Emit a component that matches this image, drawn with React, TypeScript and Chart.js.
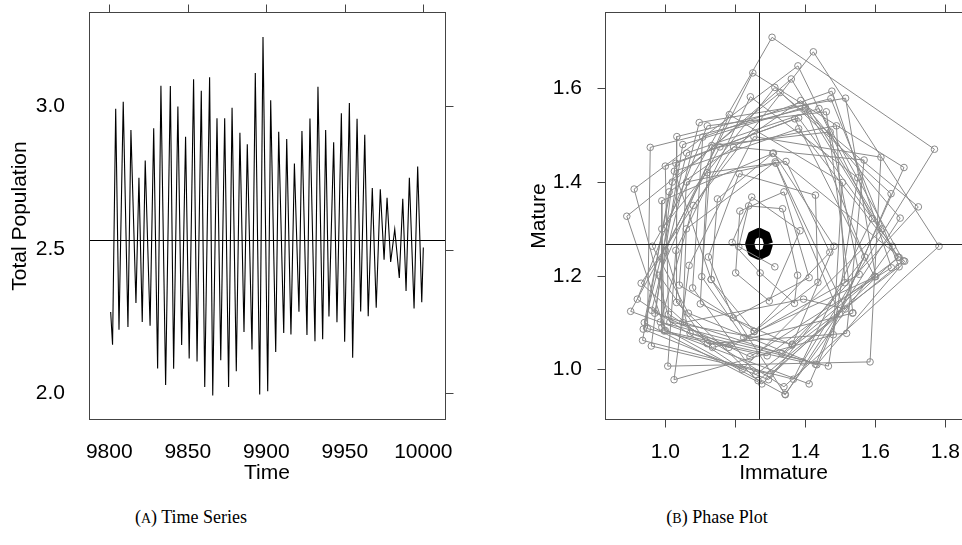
import React, { useEffect, useRef } from "react";
import { Chart, registerables } from "chart.js";

Chart.register(...registerables);

const SANS = "'Liberation Sans', Arial, Helvetica, sans-serif";
const SERIF = "'Liberation Serif', 'Times New Roman', serif";

// ---------- (A) Time series: turning points ----------
const timePoints = [
  9800.9, 9802.1, 9804.1, 9806.2, 9808.9, 9811.9, 9813.8, 9817.0, 9818.9, 9821.0,
  9822.9, 9826.0, 9828.3, 9830.8, 9832.9, 9835.9, 9838.9, 9841.0, 9843.7, 9846.1,
  9848.6, 9850.9, 9853.7, 9855.9, 9858.6, 9860.8, 9863.9, 9865.9, 9868.6, 9871.0,
  9873.5, 9876.0, 9878.2, 9880.9, 9883.2, 9885.8, 9887.9, 9890.9, 9893.0, 9895.8,
  9897.9, 9900.9, 9902.8, 9906.0, 9907.9, 9911.1, 9913.0, 9915.7, 9917.9, 9920.8,
  9922.7, 9925.9, 9927.8, 9931.0, 9932.9, 9935.9, 9937.8, 9939.9, 9942.9, 9945.0,
  9947.8, 9949.9, 9952.9, 9955.0, 9957.8, 9960.1, 9962.7, 9964.9, 9967.5, 9970.0,
  9972.6, 9975.0, 9976.9, 9979.2, 9981.8, 9984.7, 9986.9, 9989.0, 9991.1, 9994.1,
  9996.4, 9999.0, 10000.0,
];
const totalPopulation = [
  2.283, 2.169, 2.99, 2.221, 3.015, 2.231, 2.916, 2.314, 2.75, 2.248,
  2.81, 2.235, 2.922, 2.086, 3.07, 2.029, 3.069, 2.085, 2.998, 2.168,
  2.893, 2.121, 3.093, 2.111, 3.053, 2.022, 3.1, 1.992, 2.957, 2.115,
  2.957, 2.022, 2.994, 2.077, 2.907, 2.213, 2.867, 2.152, 3.115, 1.996,
  3.24, 2.007, 3.02, 2.144, 2.91, 2.21, 2.885, 2.205, 2.8, 2.284,
  2.913, 2.203, 2.956, 2.181, 3.067, 2.188, 2.916, 2.267, 2.874, 2.247,
  2.975, 2.179, 3.01, 2.124, 2.955, 2.285, 2.9, 2.268, 2.714, 2.298,
  2.71, 2.465, 2.68, 2.457, 2.571, 2.401, 2.677, 2.356, 2.75, 2.295,
  2.789, 2.317, 2.507,
];
const totalEquilibrium = 2.535;
const timeTicks = [9800, 9850, 9900, 9950, 10000];
const totalTicks = [2.0, 2.5, 3.0];

// ---------- (B) Phase plot (immature, mature) in time order ----------
const immature = [
  1.513, 1.489, 1.156, 0.901, 1.182,
  1.554, 1.471, 1.133, 1.104, 1.224,
  1.601, 1.515, 1.097, 0.961, 1.242,
  1.646, 1.476, 1.107, 1.078, 1.258,
  1.668, 1.473, 1.033, 1.032, 1.265,
  1.68, 1.439, 1.061, 0.937, 1.295,
  1.57, 1.4, 0.957, 0.949, 1.291,
  1.668, 1.381, 1.026, 1.131, 1.342,
  1.649, 1.381, 1.0, 1.009, 1.339,
  1.782, 1.423, 1.08, 0.986, 1.333,
  1.598, 1.37, 1.03, 0.94, 1.276,
  1.665, 1.4, 1.05, 0.97, 1.433,
  1.684, 1.307, 0.99, 0.99, 1.343,
  1.671, 1.387, 1.011, 0.935, 1.366,
  1.591, 1.379, 0.911, 1.013, 1.363,
  1.723, 1.328, 0.89, 1.0, 1.411,
  1.645, 1.313, 0.99, 0.997, 1.393,
  1.769, 1.305, 0.963, 1.066, 1.429,
  1.682, 1.25, 1.0, 1.071, 1.466,
  1.55, 1.243, 1.03, 1.007, 1.585,
  1.616, 1.253, 1.068, 1.025, 1.48,
  1.506, 1.183, 0.982, 1.12, 1.518,
  1.568, 1.195, 0.931, 1.135, 1.535,
  1.536, 1.46, 1.12, 0.92, 1.22,
  1.62, 1.36, 1.02, 0.96, 1.3,
  1.498, 1.314, 1.06, 1.05, 1.395,
  1.514, 1.316, 1.061, 1.04, 1.254,
  1.47, 1.345, 1.12, 1.1, 1.362,
  1.482, 1.309, 1.149, 1.131, 1.254,
  1.436, 1.429, 1.211, 1.123, 1.194,
  1.411, 1.339, 1.213, 1.201, 1.297,
  1.385, 1.247, 1.191, 1.271, 1.369,
  1.378, 1.335, 1.238, 1.21, 1.313,
];
const mature = [
  1.185, 1.52, 1.475, 1.124, 1.047,
  1.203, 1.507, 1.478, 1.198, 1.068,
  1.198, 1.579, 1.527, 1.126, 1.027,
  1.217, 1.594, 1.496, 1.174, 0.989,
  1.219, 1.578, 1.497, 1.143, 0.976,
  1.232, 1.557, 1.462, 1.086, 0.978,
  1.24, 1.557, 1.474, 1.087, 1.029,
  1.239, 1.514, 1.423, 1.192, 0.947,
  1.263, 1.537, 1.434, 1.118, 0.963,
  1.263, 1.678, 1.35, 1.101, 1.034,
  1.198, 1.535, 1.44, 1.1, 0.969,
  1.24, 1.56, 1.48, 1.12, 1.01,
  1.231, 1.461, 1.36, 1.09, 0.946,
  1.323, 1.574, 1.379, 1.062, 0.979,
  1.322, 1.648, 1.385, 1.101, 1.054,
  1.347, 1.591, 1.327, 1.083, 0.969,
  1.375, 1.602, 1.3, 1.082, 1.016,
  1.47, 1.709, 1.263, 1.12, 1.011,
  1.431, 1.633, 1.254, 1.077, 1.007,
  1.409, 1.582, 1.254, 1.007, 1.016,
  1.453, 1.497, 1.222, 0.978, 1.074,
  1.399, 1.544, 1.201, 1.055, 1.077,
  1.447, 1.475, 1.184, 1.047, 1.12,
  1.121, 1.55, 1.52, 1.15, 1.0,
  1.3, 1.62, 1.4, 1.05, 0.99,
  1.118, 1.443, 1.3, 1.1, 1.15,
  1.129, 1.44, 1.4, 1.18, 1.081,
  1.25, 1.444, 1.42, 1.14, 1.052,
  1.263, 1.462, 1.364, 1.192, 1.081,
  1.186, 1.372, 1.418, 1.24, 1.11,
  1.196, 1.379, 1.338, 1.206, 1.146,
  1.296, 1.368, 1.271, 1.206, 1.141,
  1.201, 1.343, 1.349, 1.262, 1.219,
];
// converging trajectory (black ring) around the equilibrium
const ringImmature = [1.295, 1.288, 1.268, 1.248, 1.241, 1.248, 1.268, 1.288, 1.295];
const ringMature = [1.268, 1.2855, 1.2925, 1.2855, 1.268, 1.2505, 1.2435, 1.2505, 1.268];
const equilibriumImmature = 1.268;
const equilibriumMature = 1.268;
const immatureTicks = [1.0, 1.2, 1.4, 1.6, 1.8];
const matureTicks = [1.0, 1.2, 1.4, 1.6];

const FONT_SIZE = 21;
const BOX = "#444";
const TICK_LEN = 8;

function line(ctx: CanvasRenderingContext2D, x1: number, y1: number, x2: number, y2: number) {
  ctx.beginPath();
  ctx.moveTo(x1, y1);
  ctx.lineTo(x2, y2);
  ctx.stroke();
}

function zeroPad(s: any) {
  s.paddingLeft = 0;
  s.paddingRight = 0;
  s.paddingTop = 0;
  s.paddingBottom = 0;
}

function makeFrame(id: string, xt: number[], yt: number[], sides: { top: boolean; bottom: boolean; left: boolean; right: boolean }) {
  return {
    id,
    afterDraw(chart: any) {
      const { ctx, chartArea: a, scales } = chart;
      ctx.save();
      ctx.strokeStyle = BOX;
      ctx.lineWidth = 1;
      const l = Math.round(a.left) + 0.5;
      const r = Math.round(a.right) + 0.5;
      const t = Math.round(a.top) + 0.5;
      const b = Math.round(a.bottom) - 0.5;
      ctx.strokeRect(l, t, r - l, b - t);
      for (const v of xt) {
        const x = Math.round(scales.x.getPixelForValue(v)) + 0.5;
        if (sides.top) line(ctx, x, t, x, t - TICK_LEN);
        if (sides.bottom) line(ctx, x, b, x, b + TICK_LEN);
      }
      for (const v of yt) {
        const y = Math.round(scales.y.getPixelForValue(v)) + 0.5;
        if (sides.left) line(ctx, l, y, l - TICK_LEN, y);
        if (sides.right) line(ctx, r, y, r + TICK_LEN, y);
      }
      ctx.restore();
    },
  };
}

function TimeSeriesChart() {
  const ref = useRef<HTMLCanvasElement>(null);
  useEffect(() => {
    const refLine = {
      id: "refLine",
      beforeDatasetsDraw(chart: any) {
        const { ctx, chartArea: a, scales } = chart;
        const y = Math.round(scales.y.getPixelForValue(totalEquilibrium)) + 0.5;
        ctx.save();
        ctx.strokeStyle = "#000";
        ctx.lineWidth = 1;
        line(ctx, a.left, y, a.right, y);
        ctx.restore();
      },
    };
    const chart = new Chart(ref.current as HTMLCanvasElement, {
      type: "scatter",
      data: {
        datasets: [
          {
            data: timePoints.map((t, i) => ({ x: t, y: totalPopulation[i] })),
            showLine: true,
            borderColor: "#000",
            borderWidth: 1.1,
            pointRadius: 0,
            tension: 0,
          },
        ],
      },
      options: {
        responsive: false,
        animation: false,
        devicePixelRatio: 1,
        layout: { autoPadding: false, padding: { top: 12, right: 17, left: 0, bottom: 0 } },
        plugins: { legend: { display: false }, tooltip: { enabled: false } },
        scales: {
          x: {
            type: "linear",
            min: 9787.1,
            max: 10013.8,
            afterBuildTicks: (s: any) => {
              s.ticks = timeTicks.map((v) => ({ value: v }));
            },
            afterFit: (s: any) => {
              s.height = 80;
              zeroPad(s);
            },
            grid: { display: false },
            border: { display: false },
            ticks: {
              autoSkip: false,
              maxRotation: 0,
              padding: 12,
              color: "#000",
              font: { family: SANS, size: FONT_SIZE },
              callback: (v: any) => String(v),
            },
            title: {
              display: true,
              text: "Time",
              color: "#000",
              font: { family: SANS, size: FONT_SIZE },
              padding: { top: 0, bottom: 14 },
            },
          },
          y: {
            type: "linear",
            min: 1.907,
            max: 3.327,
            afterBuildTicks: (s: any) => {
              s.ticks = totalTicks.map((v) => ({ value: v }));
            },
            afterFit: (s: any) => {
              s.width = 89;
              zeroPad(s);
            },
            grid: { display: false },
            border: { display: false },
            ticks: {
              autoSkip: false,
              padding: 16,
              color: "#000",
              font: { family: SANS, size: FONT_SIZE },
              callback: (v: any) => Number(v).toFixed(1),
            },
            title: {
              display: true,
              text: "Total Population",
              color: "#000",
              font: { family: SANS, size: FONT_SIZE },
              padding: { top: 8, bottom: 0 },
            },
          },
        },
      },
      plugins: [refLine, makeFrame("frameA", timeTicks, totalTicks, { top: true, bottom: false, left: false, right: true })],
    } as any);
    return () => chart.destroy();
  }, []);
  return <canvas ref={ref} width={462} height={500} style={{ position: "absolute", left: 0, top: 0 }} />;
}

function PhaseChart() {
  const ref = useRef<HTMLCanvasElement>(null);
  useEffect(() => {
    const cross = {
      id: "cross",
      afterDatasetsDraw(chart: any) {
        const { ctx, chartArea: a, scales } = chart;
        const x = Math.round(scales.x.getPixelForValue(equilibriumImmature)) + 0.5;
        const y = Math.round(scales.y.getPixelForValue(equilibriumMature)) + 0.5;
        ctx.save();
        ctx.strokeStyle = "#222";
        ctx.lineWidth = 1;
        line(ctx, a.left, y, a.right, y);
        line(ctx, x, a.top, x, a.bottom);
        ctx.restore();
      },
    };
    const chart = new Chart(ref.current as HTMLCanvasElement, {
      type: "scatter",
      data: {
        datasets: [
          {
            data: immature.map((v, i) => ({ x: v, y: mature[i] })),
            showLine: true,
            borderColor: "#8a8a8a",
            borderWidth: 1,
            pointRadius: 3.3,
            pointBorderWidth: 1,
            pointBorderColor: "#8a8a8a",
            pointBackgroundColor: "rgba(0,0,0,0)",
            tension: 0,
          },
          {
            data: ringImmature.map((v, i) => ({ x: v, y: ringMature[i] })),
            showLine: true,
            borderColor: "#000",
            borderWidth: 9,
            borderJoinStyle: "round",
            pointRadius: 0,
            tension: 0,
          },
        ],
      },
      options: {
        responsive: false,
        animation: false,
        devicePixelRatio: 1,
        layout: { autoPadding: false, padding: { top: 12, right: 0, left: 0, bottom: 0 } },
        plugins: { legend: { display: false }, tooltip: { enabled: false } },
        scales: {
          x: {
            type: "linear",
            min: 0.8277,
            max: 1.8477,
            afterBuildTicks: (s: any) => {
              s.ticks = immatureTicks.map((v) => ({ value: v }));
            },
            afterFit: (s: any) => {
              s.height = 80;
              zeroPad(s);
            },
            grid: { display: false },
            border: { display: false },
            ticks: {
              autoSkip: false,
              maxRotation: 0,
              padding: 12,
              color: "#000",
              font: { family: SANS, size: FONT_SIZE },
              callback: (v: any) => Number(v).toFixed(1),
            },
            title: {
              display: true,
              text: "Immature",
              color: "#000",
              font: { family: SANS, size: FONT_SIZE },
              padding: { top: 0, bottom: 14 },
            },
          },
          y: {
            type: "linear",
            min: 0.892,
            max: 1.763,
            afterBuildTicks: (s: any) => {
              s.ticks = matureTicks.map((v) => ({ value: v }));
            },
            afterFit: (s: any) => {
              s.width = 135;
              zeroPad(s);
            },
            grid: { display: false },
            border: { display: false },
            ticks: {
              autoSkip: false,
              padding: 15,
              color: "#000",
              font: { family: SANS, size: FONT_SIZE },
              callback: (v: any) => Number(v).toFixed(1),
            },
            title: {
              display: true,
              text: "Mature",
              color: "#000",
              font: { family: SANS, size: FONT_SIZE },
              padding: { top: 57, bottom: 0 },
            },
          },
        },
      },
      plugins: [cross, makeFrame("frameB", immatureTicks, matureTicks, { top: true, bottom: true, left: true, right: true })],
    } as any);
    return () => chart.destroy();
  }, []);
  return <canvas ref={ref} width={492} height={500} style={{ position: "absolute", left: 470, top: 0 }} />;
}

const captionStyle: React.CSSProperties = {
  position: "absolute",
  top: 506,
  fontFamily: SERIF,
  fontSize: 18,
  lineHeight: "22px",
  color: "#000",
  whiteSpace: "nowrap",
  transform: "translateX(-50%)",
};

export default function App() {
  return (
    <div
      style={{
        position: "fixed",
        left: 0,
        top: 0,
        width: 962,
        height: 545,
        overflow: "hidden",
        background: "#fff",
      }}
    >
      <TimeSeriesChart />
      <PhaseChart />
      <div style={{ ...captionStyle, left: 191 }}>
        (<span style={{ fontSize: 14 }}>A</span>) Time Series
      </div>
      <div style={{ ...captionStyle, left: 717 }}>
        (<span style={{ fontSize: 14 }}>B</span>) Phase Plot
      </div>
    </div>
  );
}
